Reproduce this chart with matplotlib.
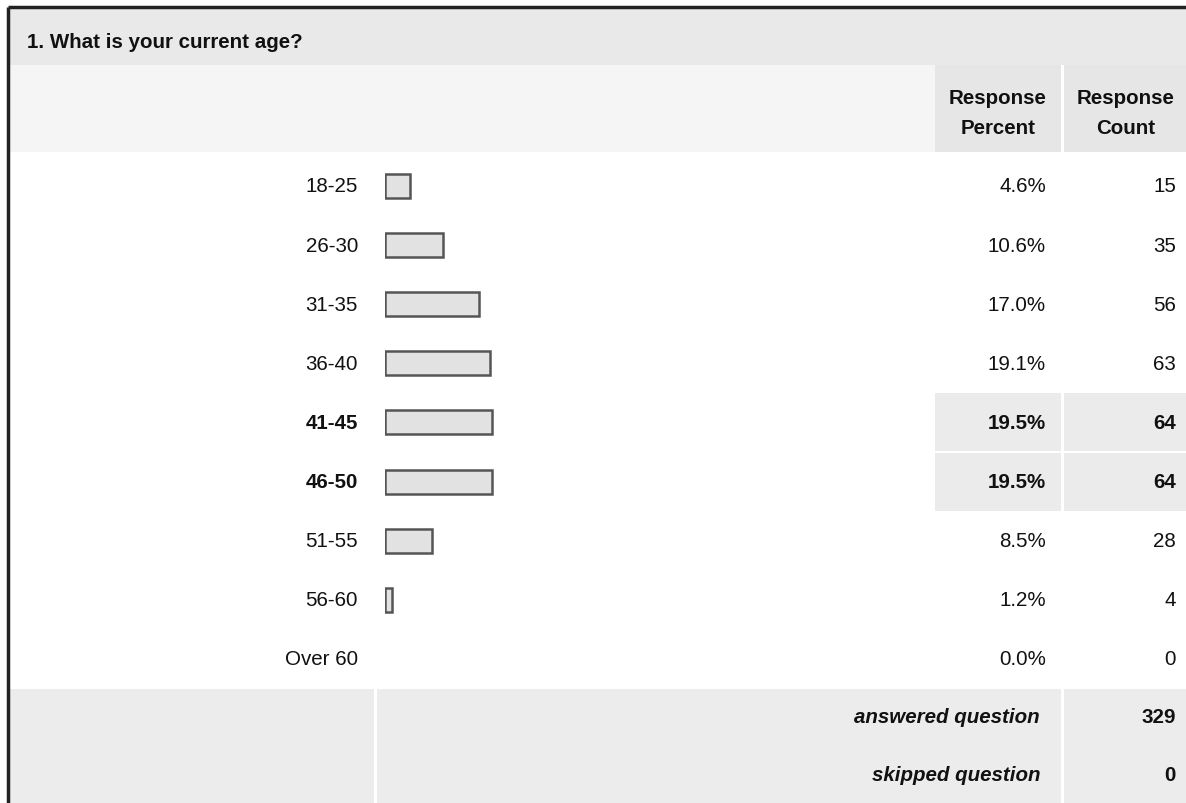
import matplotlib
matplotlib.use("Agg")
import matplotlib.pyplot as plt
from matplotlib.patches import Rectangle

plt.rcParams['font.family'] = ['Liberation Sans', 'DejaVu Sans']

title = "1. What is your current age?"
categories = ["18-25", "26-30", "31-35", "36-40", "41-45", "46-50", "51-55", "56-60", "Over 60"]
percents = [4.6, 10.6, 17.0, 19.1, 19.5, 19.5, 8.5, 1.2, 0.0]
counts = [15, 35, 56, 63, 64, 64, 28, 4, 0]
answered = 329
skipped = 0

W, H = 1186, 804
fig = plt.figure(figsize=(W / 100, H / 100), dpi=100)
ax = fig.add_axes([0, 0, 1, 1])
ax.set_xlim(0, W)
ax.set_ylim(H, 0)
ax.axis('off')

FS = 14.8
TXT = '#111111'

def rect(x0, y0, x1, y1, color):
    ax.add_patch(Rectangle((x0, y0), x1 - x0, y1 - y0, facecolor=color, edgecolor='none', zorder=0))

# backgrounds
rect(8, 8, W, 66, '#e9e9e9')
rect(8, 66, 935, 153, '#f5f5f5')
rect(935, 66, 1061, 153, '#e6e6e6')
rect(1064, 66, W, 153, '#e6e6e6')
max_pct = max(percents)
row_y0 = 187
row_dy = 59.1
for i, p in enumerate(percents):
    if p == max_pct:
        yc = row_y0 + i * row_dy
        rect(935, yc - 29, 1061, yc + 29, '#ebebeb')
        rect(1064, yc - 29, W, yc + 29, '#ebebeb')
rect(8, 690, 374, H, '#ececec')
rect(377, 690, 1061, H, '#ececec')
rect(1064, 690, W, H, '#ececec')

# border
ax.plot([8, W], [8, 8], color='#222222', lw=2.5, zorder=5, solid_capstyle='butt')
ax.plot([8, 8], [8, H], color='#222222', lw=2.5, zorder=5, solid_capstyle='butt')

# title
ax.text(27, 42, title, fontsize=FS, fontweight='bold', ha='left', va='center', color=TXT)

# headers
for xc, (l1, l2) in [(998, ("Response", "Percent")), (1126, ("Response", "Count"))]:
    ax.text(xc, 99, l1, fontsize=FS, fontweight='bold', ha='center', va='center', color=TXT)
    ax.text(xc, 128, l2, fontsize=FS, fontweight='bold', ha='center', va='center', color=TXT)

# bar axes: x from 385 px, 5.5 px per percent
bx0, bx1 = 385, 935
bax = fig.add_axes([bx0 / W, 0, (bx1 - bx0) / W, 1])
bax.set_xlim(0, (bx1 - bx0) / 5.5)
bax.set_ylim(H, 0)
bax.axis('off')
ys = [row_y0 + i * row_dy for i in range(len(categories))]
for y, p in zip(ys, percents):
    if p > 0:
        bax.barh(y, p, height=24, left=0, color='#e2e2e2', edgecolor='#555555', linewidth=1.8)

for y, c, p, n in zip(ys, categories, percents, counts):
    bold = 'bold' if p == max_pct else 'normal'
    ax.text(358, y, c, fontsize=FS, fontweight=bold, ha='right', va='center', color=TXT)
    ax.text(1046, y, f"{p:.1f}%", fontsize=FS, fontweight=bold, ha='right', va='center', color=TXT)
    ax.text(1176, y, f"{n}", fontsize=FS, fontweight=bold, ha='right', va='center', color=TXT)

ax.text(1040, 718, "answered question", fontsize=FS, fontweight='bold', style='italic', ha='right', va='center', color=TXT)
ax.text(1176, 718, f"{answered}", fontsize=FS, fontweight='bold', ha='right', va='center', color=TXT)
ax.text(1040, 776, "skipped question", fontsize=FS, fontweight='bold', style='italic', ha='right', va='center', color=TXT)
ax.text(1176, 776, f"{skipped}", fontsize=FS, fontweight='bold', ha='right', va='center', color=TXT)

fig.savefig("out.png", dpi=100)
